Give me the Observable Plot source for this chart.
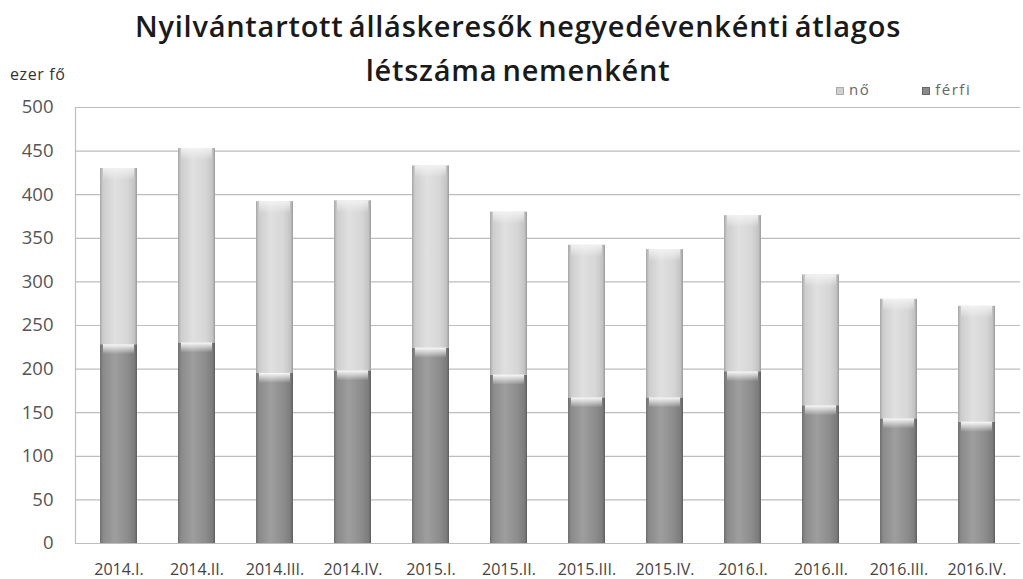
<!DOCTYPE html>
<html>
<head>
<meta charset="utf-8">
<script src="https://cdn.jsdelivr.net/npm/d3@7"></script>
<script src="https://cdn.jsdelivr.net/npm/@observablehq/plot@0.6"></script>
<style>
  html, body { margin: 0; padding: 0; background: #fff; }
  #wrap { position: relative; width: 1023px; height: 579px; overflow: hidden; font-family: "Open Sans", sans-serif; }
  .title { position: absolute; z-index: 2; left: 0; width: 1036px; text-align: center; font-weight: 600; font-size: 29px; letter-spacing: 0.75px; word-spacing: -3px; color: #1a1a1a; line-height: 1; }
  #t1 { top: 11px; }
  #t2 { top: 55px; }
  #unit { position: absolute; z-index: 2; left: 10px; top: 63px; font-size: 16px; color: #333; letter-spacing: 0.6px; }
  #legend { position: absolute; z-index: 2; left: 836px; top: 80px; font-size: 15px; color: #666; white-space: nowrap; letter-spacing: 1.5px; line-height: 1.2; }
  #legend span.item { display: inline-block; }
  #legend span.item + span.item { margin-left: 52px; }
  #legend i { display: inline-block; width: 8px; height: 8px; margin-right: 5px; vertical-align: 0px; }
  #chart { position: absolute; z-index: 1; left: 0; top: 93px; }
</style>
</head>
<body>
<div id="wrap">
  <div class="title" id="t1">Nyilvántartott álláskeresők negyedévenkénti átlagos</div>
  <div class="title" id="t2">létszáma nemenként</div>
  <div id="unit">ezer fő</div>
  <div id="legend"><span class="item"><i style="background:#cfcfcf;border:1px solid #aaa;box-sizing:border-box"></i>nő</span><span class="item"><i style="background:#8a8a8a;border:1px solid #666;box-sizing:border-box"></i>férfi</span></div>
  <div id="chart"></div>
</div>
<script>
const quarters = ["2014.I.","2014.II.","2014.III.","2014.IV.","2015.I.","2015.II.","2015.III.","2015.IV.","2016.I.","2016.II.","2016.III.","2016.IV."];
const ferfi = [228, 230, 195, 198, 224, 193, 167, 167, 197, 158, 143, 139];
const no    = [202, 223, 197, 195, 209, 187, 175, 170, 179, 150, 137, 133];
const yTicks = [0, 50, 100, 150, 200, 250, 300, 350, 400, 450, 500];

const rows = quarters.map((q, i) => ({q, ferfi: ferfi[i], no: no[i], total: ferfi[i] + no[i]}));

const plot = Plot.plot({
  width: 1023,
  height: 486,
  marginTop: 14,
  marginBottom: 36,
  marginLeft: 75,
  marginRight: 3,
  style: {fontFamily: "Open Sans, sans-serif", background: "transparent", overflow: "visible"},
  x: {domain: quarters, paddingInner: 0.52, paddingOuter: 0.26, label: null},
  y: {domain: [0, 500], label: null},
  marks: [
    Plot.ruleY(yTicks, {stroke: "#bdbdbd", strokeWidth: 1.2}),
    Plot.frame({anchor: "left", stroke: "#bdbdbd", strokeWidth: 1.2}),
    // férfi (bottom segment)
    Plot.rectY(rows, {x: "q", y1: 0, y2: "ferfi", fill: "url(#gradF)"}),
    // nő (top segment)
    Plot.rectY(rows, {x: "q", y1: "ferfi", y2: "total", fill: "url(#gradN)"}),
    // cylinder-top highlights
    Plot.rectY(rows, {x: "q", y1: "ferfi", y2: "ferfi", insetBottom: -10, insetLeft: 3, insetRight: 3, fill: "url(#gradTop)"}),
    Plot.rectY(rows, {x: "q", y1: "total", y2: "total", insetBottom: -12, insetLeft: 3, insetRight: 3, fill: "url(#gradTopN)"}),
    Plot.axisY({ticks: yTicks, tickSize: 0, tickPadding: 22, fontSize: 18.5, fill: "#555", tickFormat: d => d}),
    Plot.axisX({tickSize: 0, tickPadding: 20, fontSize: 16, fill: "#444", letterSpacing: "-0.3px"})
  ]
});

// gradient definitions for the cylinder shading
const svg = d3.select(plot);
const defs = svg.insert("defs", ":first-child");
function hgrad(id, stops) {
  const g = defs.append("linearGradient").attr("id", id).attr("x1", 0).attr("x2", 1).attr("y1", 0).attr("y2", 0);
  stops.forEach(([o, c]) => g.append("stop").attr("offset", o).attr("stop-color", c));
}
hgrad("gradF", [[0, "#6e6e6e"], [0.08, "#8a8a8a"], [0.4, "#9e9e9e"], [0.75, "#8c8c8c"], [0.93, "#7c7c7c"], [1, "#5e5e5e"]]);
hgrad("gradN", [[0, "#a6a6a6"], [0.08, "#cdcdcd"], [0.4, "#e0e0e0"], [0.75, "#d6d6d6"], [0.93, "#c4c4c4"], [1, "#9a9a9a"]]);
const gt = defs.append("linearGradient").attr("id", "gradTop").attr("x1", 0).attr("x2", 0).attr("y1", 0).attr("y2", 1);
gt.append("stop").attr("offset", 0).attr("stop-color", "#ffffff").attr("stop-opacity", 0.95);
gt.append("stop").attr("offset", 1).attr("stop-color", "#ffffff").attr("stop-opacity", 0);
const gn = defs.append("linearGradient").attr("id", "gradTopN").attr("x1", 0).attr("x2", 0).attr("y1", 0).attr("y2", 1);
gn.append("stop").attr("offset", 0).attr("stop-color", "#f4f4f4").attr("stop-opacity", 0.9);
gn.append("stop").attr("offset", 1).attr("stop-color", "#f4f4f4").attr("stop-opacity", 0);

document.getElementById("chart").appendChild(plot);
</script>
</body>
</html>
